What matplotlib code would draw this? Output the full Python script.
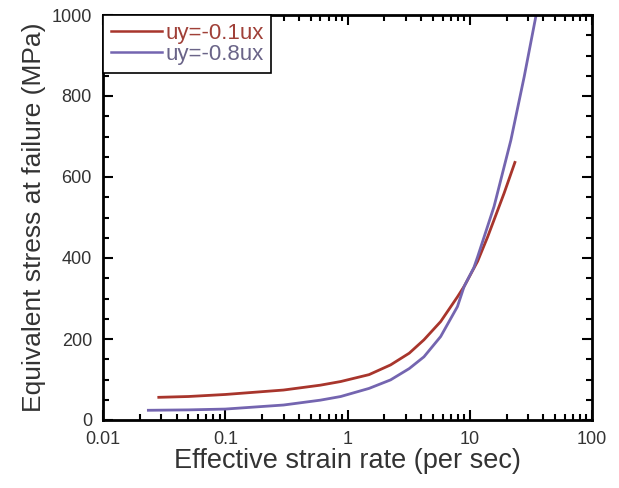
import numpy as np
import matplotlib.pyplot as plt
from matplotlib.ticker import LogLocator, MultipleLocator, NullFormatter

plt.rcParams['font.family'] = ['Liberation Sans', 'DejaVu Sans']

rate_01 = [0.0286, 0.05, 0.1, 0.3, 0.6, 0.88, 1.5, 2.25, 3.2, 4.22, 5.78, 7.93, 9.0, 11.6, 14.0, 19.1, 23.4]
stress_01 = [56, 58, 63, 74, 86, 95, 112, 136, 165, 198, 243, 304, 330, 392, 452, 560, 636]
rate_08 = [0.0235, 0.05, 0.1, 0.3, 0.6, 0.88, 1.5, 2.25, 3.2, 4.22, 5.78, 7.93, 9.0, 10.8, 11.6, 15.8, 21.7, 27.9, 34.7, 36.0]
stress_08 = [24, 25, 27, 37, 49, 58, 78, 99, 127, 156, 206, 280, 330, 376, 403, 527, 691, 848, 996, 1030]
labels = ['uy=-0.1ux', 'uy=-0.8ux']
red = '#a8352c'
purple = '#7465b0'

fig = plt.figure(figsize=(6.19, 4.88), dpi=100)
ax = fig.add_axes([103 / 619, 1 - 420 / 488, 489 / 619, 405 / 488])

ax.plot(rate_01, stress_01, color=red, lw=2, label=labels[0])
ax.plot(rate_08, stress_08, color=purple, lw=2, label=labels[1])

ax.set_xscale('log')
ax.set_xlim(0.01, 100)
ax.set_ylim(0, 1000)
ax.set_xticks([0.01, 0.1, 1, 10, 100])
ax.set_xticklabels(['0.01', '0.1', '1', '10', '100'])
ax.xaxis.set_minor_locator(LogLocator(base=10, subs=np.arange(2, 10)))
ax.xaxis.set_minor_formatter(NullFormatter())
ax.yaxis.set_major_locator(MultipleLocator(200))
ax.yaxis.set_minor_locator(MultipleLocator(50))

for s in ax.spines.values():
    s.set_linewidth(2)
ax.tick_params(which='both', direction='in', top=True, right=True, width=1.5)
ax.tick_params(which='major', length=7, labelsize=13, labelcolor='#333333', pad=8)
ax.tick_params(which='minor', length=4)

ax.set_xlabel('Effective strain rate (per sec)', fontsize=19.5, color='#333333', labelpad=0)
ax.set_ylabel('Equivalent stress at failure (MPa)', fontsize=19, color='#333333', labelpad=4)

leg = ax.legend(loc='upper left', fontsize=16, fancybox=False, framealpha=1,
                edgecolor='black', borderaxespad=0, handlelength=2.3,
                handletextpad=0.15, borderpad=0.35, labelspacing=0.0)
leg.get_frame().set_linewidth(1.2)
for line in leg.get_lines():
    line.set_linewidth(1.8)
for txt, c in zip(leg.get_texts(), ['#a04038', '#6a6488']):
    txt.set_color(c)

fig.savefig('out.png', dpi=100)
